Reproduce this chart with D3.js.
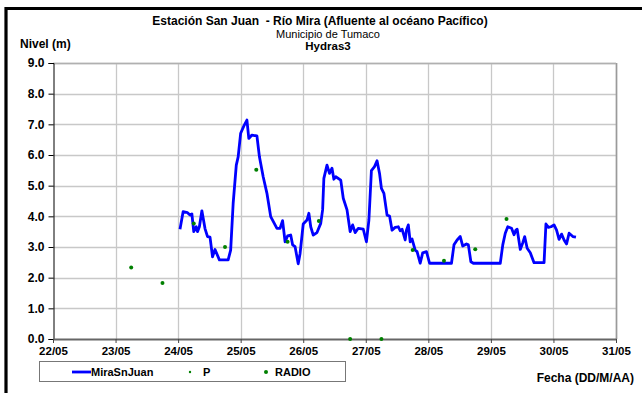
<!DOCTYPE html>
<html><head><meta charset="utf-8">
<script src="https://cdn.jsdelivr.net/npm/d3@7"></script>
<style>body{margin:0;background:#fff}svg{display:block}text{font-family:"Liberation Sans",Arial,sans-serif}</style>
</head><body><svg id="c" width="642" height="393"></svg>
<script>
// Day of May (fractional) and water level (m) for MiraSnJuan
const miraDays = [24.03,24.08,24.15,24.19,24.22,24.25,24.29,24.31,24.34,24.38,24.43,24.47,24.51,24.55,24.59,24.66,24.80,24.84,24.88,24.93,24.96,25.00,25.05,25.10,25.13,25.18,25.26,25.30,25.36,25.42,25.48,25.58,25.63,25.67,25.71,25.75,25.80,25.83,25.87,25.92,25.95,26.00,26.06,26.09,26.12,26.16,26.22,26.28,26.31,26.33,26.38,26.42,26.46,26.49,26.52,26.60,26.64,26.70,26.75,26.79,26.83,26.88,26.96,27.01,27.05,27.09,27.14,27.18,27.22,27.25,27.29,27.34,27.38,27.42,27.47,27.52,27.55,27.58,27.63,27.65,27.68,27.71,27.74,27.79,27.82,27.87,27.91,27.97,28.02,28.37,28.41,28.46,28.51,28.55,28.61,28.64,28.68,28.72,29.15,29.19,29.23,29.27,29.33,29.37,29.40,29.42,29.47,29.51,29.54,29.58,29.63,29.69,29.85,29.88,29.92,29.96,30.01,30.05,30.09,30.13,30.17,30.21,30.25,30.31,30.36];
const miraValues = [3.58,4.15,4.12,4.04,4.08,3.5,3.66,3.5,3.66,4.18,3.6,3.34,3.32,2.68,2.92,2.58,2.58,2.9,4.42,5.67,5.94,6.71,6.94,7.14,6.54,6.65,6.62,5.94,5.29,4.75,3.99,3.61,3.61,3.86,3.17,3.36,3.39,3.07,3.01,2.45,2.79,3.75,3.88,4.1,3.66,3.39,3.47,3.77,4.21,5.24,5.67,5.4,5.57,5.21,5.29,5.18,4.59,4.21,3.5,3.72,3.47,3.61,3.58,3.17,3.88,5.49,5.62,5.81,5.4,4.91,4.75,4.04,4.01,3.55,3.64,3.66,3.53,3.58,3.23,3.55,3.72,3.17,3.26,2.9,2.85,2.47,2.81,2.85,2.47,2.47,3.07,3.23,3.34,3.03,3.1,3.07,2.52,2.47,2.47,3.07,3.45,3.66,3.61,3.4,3.55,3.58,2.92,3.14,3.34,2.96,2.81,2.49,2.49,3.75,3.64,3.66,3.72,3.55,3.25,3.42,3.23,3.1,3.45,3.34,3.32];
const pDays = [];
const pValues = [];
const radioDays = [23.25,23.75,24.25,24.75,25.25,25.75,26.25,26.75,27.25,27.75,28.25,28.75,29.25];
const radioValues = [2.33,1.83,3.77,3.0,5.52,3.17,3.85,0,0,2.9,2.55,2.93,3.91];
const xTickDays = [22,23,24,25,26,27,28,29,30,31];
const xTickLabels = ["22/05","23/05","24/05","25/05","26/05","27/05","28/05","29/05","30/05","31/05"];
const yTicks = [0,1,2,3,4,5,6,7,8,9];
const seriesNames = ["MiraSnJuan","P","RADIO"];

const svg = d3.select("#c");
const L=53,R=616,T=63,B=339;
const x = d3.scaleLinear().domain([22,31]).range([L,R]);
const y = d3.scaleLinear().domain([0,9]).range([B,T]);

// outer frame (partial black border)
svg.append("path").attr("d","M6,393 V8.5 H642").attr("fill","none").attr("stroke","#000").attr("stroke-width",3.2);

// grid
const g = svg.append("g");
g.selectAll(".gy").data(yTicks.filter(d=>d>0)).join("line")
 .attr("x1",L).attr("x2",R).attr("y1",d=>Math.round(y(d))+0.5).attr("y2",d=>Math.round(y(d))+0.5)
 .attr("stroke","#c8c8c8").attr("stroke-width",1.3);
g.selectAll(".gx").data(xTickDays.filter(d=>d>22)).join("line")
 .attr("y1",T).attr("y2",B).attr("x1",d=>Math.round(x(d))+0.5).attr("x2",d=>Math.round(x(d))+0.5)
 .attr("stroke","#c8c8c8").attr("stroke-width",1.3);
// plot border right/top
svg.append("line").attr("x1",R+0.5).attr("x2",R+0.5).attr("y1",T).attr("y2",B).attr("stroke","#9a9a9a").attr("stroke-width",1.6);
svg.append("line").attr("x1",L).attr("x2",R).attr("y1",T+0.5).attr("y2",T+0.5).attr("stroke","#b0b0b0").attr("stroke-width",1.3);

const tickFont = s => s.attr("font-weight","bold").attr("fill","#000").style("font-family","Liberation Sans, Arial");
// axes
const yAxis = d3.axisLeft(y).tickValues(yTicks).tickFormat(d3.format(".1f")).tickSize(5).tickPadding(4);
const ya = svg.append("g").attr("transform",`translate(${L+0.5},0)`).call(yAxis);
ya.select(".domain").attr("stroke","#000");
ya.selectAll("text").attr("font-size",12).call(tickFont);
const xAxis = d3.axisBottom(x).tickValues(xTickDays).tickFormat((d,i)=>xTickLabels[i]).tickSize(4).tickSizeOuter(0).tickPadding(4);
const xa = svg.append("g").attr("transform",`translate(0,${B})`).call(xAxis);
xa.select(".domain").attr("stroke","#666").attr("stroke-width",2);
xa.selectAll(".tick line").attr("stroke","#444");
xa.selectAll("text").attr("font-size",11.5).call(tickFont);

// series
const mira = miraDays.map((d,i)=>[d,miraValues[i]]);
svg.append("path").datum(mira).attr("fill","none").attr("stroke","#0000ff").attr("stroke-width",2.8)
 .attr("stroke-linejoin","round").attr("d",d3.line().x(d=>x(d[0])).y(d=>y(d[1])));
svg.selectAll(".p").data(pDays.map((d,i)=>[d,pValues[i]])).join("circle")
 .attr("cx",d=>x(d[0])).attr("cy",d=>y(d[1])).attr("r",1.2).attr("fill","#008000");
svg.selectAll(".r").data(radioDays.map((d,i)=>[d,radioValues[i]])).join("circle")
 .attr("cx",d=>x(d[0])).attr("cy",d=>y(d[1])).attr("r",2).attr("fill","#008000");

// titles
const t = svg.append("g").attr("text-anchor","middle");
t.append("text").attr("x",320).attr("y",24.5).attr("font-size",12).attr("font-weight","bold").attr("xml:space","preserve").text("Estación San Juan  - Río Mira (Afluente al océano Pacífico)");
t.append("text").attr("x",328).attr("y",37.5).attr("font-size",11).text("Municipio de Tumaco");
t.append("text").attr("x",328).attr("y",50).attr("font-size",11.5).attr("font-weight","bold").text("Hydras3");
svg.append("text").attr("x",20).attr("y",48).attr("font-size",12).attr("font-weight","bold").text("Nivel (m)");
svg.append("text").attr("x",634).attr("y",382).attr("text-anchor","end").attr("font-size",12).attr("font-weight","bold").text("Fecha (DD/M/AA)");

// legend
const lg = svg.append("g");
lg.append("rect").attr("x",39.5).attr("y",361.5).attr("width",306).attr("height",20).attr("fill","#fff").attr("stroke","#777").attr("stroke-width",1);
lg.append("line").attr("x1",72).attr("x2",91).attr("y1",372).attr("y2",372).attr("stroke","#0000ff").attr("stroke-width",2.8);
lg.append("text").attr("x",91).attr("y",376).attr("font-size",11).attr("font-weight","bold").text(seriesNames[0]);
lg.append("circle").attr("cx",190).attr("cy",372).attr("r",1.2).attr("fill","#008000");
lg.append("text").attr("x",203).attr("y",376).attr("font-size",11).attr("font-weight","bold").text(seriesNames[1]);
lg.append("circle").attr("cx",266).attr("cy",372).attr("r",2).attr("fill","#008000");
lg.append("text").attr("x",275).attr("y",376).attr("font-size",11).attr("font-weight","bold").text(seriesNames[2]);
</script></body></html>
